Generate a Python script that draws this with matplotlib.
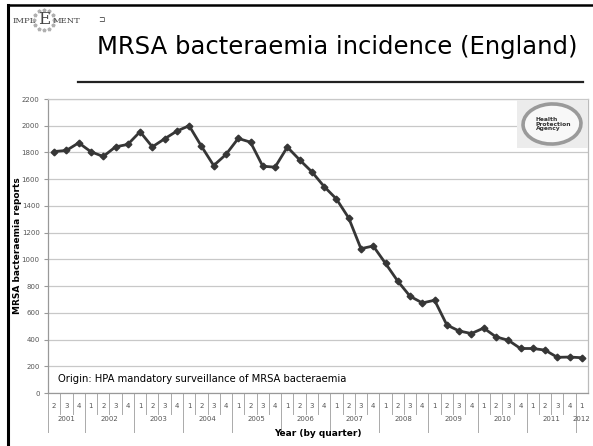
import math
import matplotlib
matplotlib.use("Agg")
import matplotlib.pyplot as plt
from matplotlib.patches import Ellipse, Rectangle
from matplotlib.lines import Line2D

# Quarterly MRSA bacteraemia reports, England, 2001 Q2 to 2012 Q1
reports = [1807, 1815, 1872, 1805,
           1770, 1842, 1860, 1955,
           1842, 1902, 1960, 2000,
           1847, 1702, 1785, 1905,
           1877, 1697, 1690, 1840,
           1745, 1655, 1545, 1452,
           1310, 1080, 1100, 970,
           837, 724, 674, 694,
           509, 464, 445, 486,
           420, 395, 333, 333,
           321, 267, 269, 264]

quarter_labels = ["2", "3", "4",
                  "1", "2", "3", "4",
                  "1", "2", "3", "4",
                  "1", "2", "3", "4",
                  "1", "2", "3", "4",
                  "1", "2", "3", "4",
                  "1", "2", "3", "4",
                  "1", "2", "3", "4",
                  "1", "2", "3", "4",
                  "1", "2", "3", "4",
                  "1", "2", "3", "4",
                  "1"]
year_labels = ["2001", "2002", "2003", "2004", "2005", "2006",
               "2007", "2008", "2009", "2010", "2011", "2012"]
quarters_per_year = [3, 4, 4, 4, 4, 4, 4, 4, 4, 4, 4, 1]
y_ticks = [0, 200, 400, 600, 800, 1000, 1200, 1400, 1600, 1800, 2000, 2200]

W, H = 593, 446
fig = plt.figure(figsize=(W / 100, H / 100), dpi=100)
fig.patch.set_facecolor("white")


def fx(px):
    return px / W


def fy(py):
    return 1 - py / H


# slide frame
fig.add_artist(Line2D([fx(8), 1], [fy(5), fy(5)], color="black", lw=1.8))
fig.add_artist(Line2D([fx(8), fx(8)], [fy(5), 0], color="black", lw=2.2))

# IMPLEMENT logo
star_x, star_y = [], []
for k in range(12):
    a = 2 * math.pi * k / 12
    star_x.append(fx(44 + 10 * math.cos(a)))
    star_y.append(fy(20 + 10 * math.sin(a)))
fig.add_artist(Line2D(star_x, star_y, ls="none", marker="*", markersize=2.6,
                      color="#b0b0b0", transform=fig.transFigure))
fig.text(fx(36), fy(21), "IMPL", fontsize=6, family="DejaVu Serif",
         color="#444444", va="center", ha="right")
fig.text(fx(44), fy(20), "E", fontsize=12, family="DejaVu Serif",
         color="#444444", va="center", ha="center")
fig.text(fx(53), fy(21), "MENT", fontsize=6, family="DejaVu Serif",
         color="#444444", va="center", ha="left")
fig.text(fx(101), fy(19), "\u2290", fontsize=5.5, color="#333333",
         ha="center", va="center")

# title and underline
fig.text(fx(337), fy(47), "MRSA bacteraemia incidence (England)",
         fontsize=17.5, color="black", ha="center", va="center",
         family="DejaVu Sans")
fig.add_artist(Line2D([fx(78), fx(583)], [fy(82), fy(82)],
                      color="#222222", lw=1.6))

# chart area
left, right, top, bottom = 48, 588, 99, 393
ax = fig.add_axes([fx(left), fy(bottom), fx(right - left), (bottom - top) / H])
ax.set_facecolor("white")

x = list(range(len(reports)))
ax.plot(x, reports, color="#363636", lw=2.0, marker="D", markersize=3.4,
        zorder=3)

ax.set_xlim(-0.5, len(reports) - 0.5)
ax.set_ylim(0, 2200)
ax.set_yticks(y_ticks)
ax.set_yticklabels([str(v) for v in y_ticks], fontsize=5, color="#555555")
ax.tick_params(axis="y", length=3, color="#999999", pad=3)
ax.set_xticks([])
ax.grid(axis="y", color="#c8c8c8", lw=0.9)
ax.set_axisbelow(True)
for s in ["left", "bottom", "right", "top"]:
    ax.spines[s].set_color("#999999")
    ax.spines[s].set_linewidth(0.9)
ax.spines["top"].set_color("#c8c8c8")
ax.spines["right"].set_color("#bbbbbb")

ax.set_ylabel("MRSA bacteraemia reports", fontsize=6.5, fontweight="bold")
ax.yaxis.set_label_coords((22 - left) / (right - left), 0.5)


def afy(py):
    return (bottom - py) / (bottom - top)


tr = ax.get_xaxis_transform()

# quarter labels and separators
for i, q in enumerate(quarter_labels):
    ax.text(i, afy(406), q, transform=tr, fontsize=5, color="#555555",
            ha="center", va="center", clip_on=False)
boundaries_year = []
pos = -0.5
for n in quarters_per_year:
    boundaries_year.append(pos)
    pos += n
for i in range(len(quarter_labels)):
    b = i - 0.5
    y_end = 432 if b in boundaries_year else 414
    ax.plot([b, b], [afy(bottom), afy(y_end)], transform=tr,
            color="#aaaaaa", lw=0.7, clip_on=False)

# year labels
pos = -0.5
for lab, n in zip(year_labels, quarters_per_year):
    ax.text(pos + n / 2, afy(419), lab, transform=tr, fontsize=5,
            color="#555555", ha="center", va="center", clip_on=False)
    pos += n

ax.text(0.5, afy(434), "Year (by quarter)", transform=ax.transAxes,
        fontsize=6.5, fontweight="bold", ha="center", va="center",
        clip_on=False)

# source note
ax.text((58 - left) / (right - left), afy(379),
        "Origin: HPA mandatory surveillance of MRSA bacteraemia",
        transform=ax.transAxes, fontsize=7.2, color="black",
        ha="left", va="center")

# Health Protection Agency badge
bx0, by0, bx1, by1 = 517, 100, 588, 148
fig.add_artist(Rectangle((fx(bx0), fy(by1)), fx(bx1 - bx0), (by1 - by0) / H,
                         facecolor="#ececec", edgecolor="none",
                         transform=fig.transFigure, zorder=5))
fig.add_artist(Ellipse((fx(552), fy(124)), fx(58), 40 / H, angle=8,
                       facecolor="#f8f8f8", edgecolor="#9a9a9a", lw=2.6,
                       transform=fig.transFigure, zorder=6))
fig.text(fx(536), fy(124), "Health\nProtection\nAgency", fontsize=4.3,
         fontweight="bold", color="#333333", ha="left", va="center",
         linespacing=0.95, zorder=7)

fig.savefig("out.png", dpi=100, facecolor="white")
